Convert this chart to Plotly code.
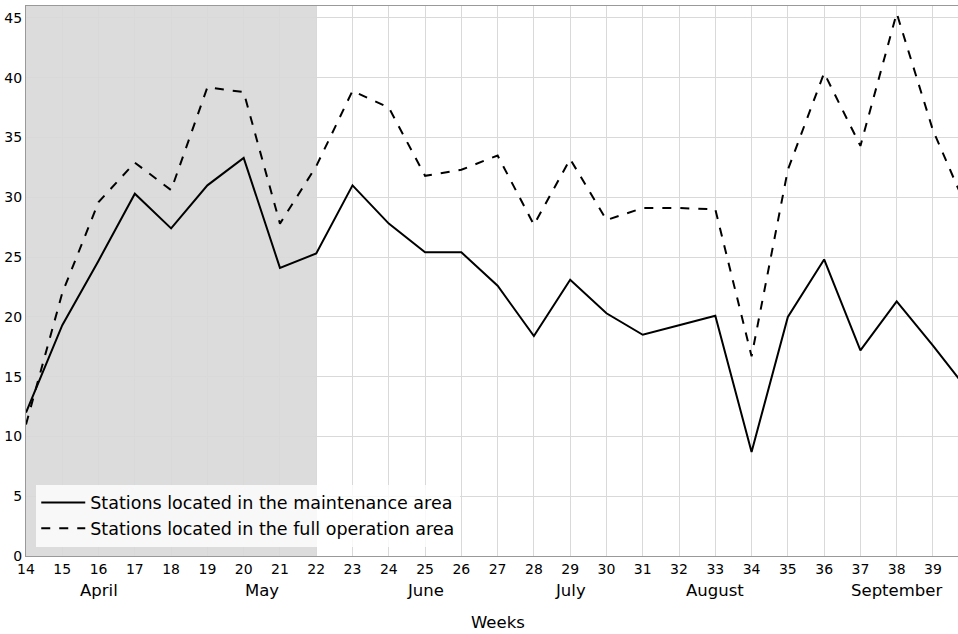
import plotly.graph_objects as go

weeks = [14, 15, 16, 17, 18, 19, 20, 21, 22, 23, 24, 25, 26, 27, 28, 29, 30, 31, 32, 33, 34, 35, 36, 37, 38, 39, 40]
maintenance = [12.0, 19.3, 24.7, 30.3, 27.4, 31.0, 33.3, 24.1, 25.3, 31.0, 27.8, 25.4, 25.4, 22.6, 18.4, 23.1, 20.3, 18.5, 19.3, 20.1, 8.7, 20.0, 24.8, 17.2, 21.3, 17.6, 13.7]
full_operation = [11.0, 22.0, 29.6, 32.9, 30.6, 39.2, 38.8, 27.8, 32.6, 38.9, 37.5, 31.8, 32.3, 33.5, 27.7, 33.2, 28.1, 29.1, 29.1, 29.0, 16.7, 32.3, 40.4, 34.3, 45.4, 35.6, 28.6]
month_labels = ["April", "May", "June", "July", "August", "September"]
month_pos = [16, 20.5, 25, 29, 33, 38]
shade_range = [14, 22]

FONT = "DejaVu Sans"

fig = go.Figure()
fig.add_trace(go.Scatter(x=weeks, y=maintenance, mode="lines",
                         name="Stations located in the maintenance area",
                         line=dict(color="black", width=2)))
fig.add_trace(go.Scatter(x=weeks, y=full_operation, mode="lines",
                         name="Stations located in the full operation area",
                         line=dict(color="black", width=2, dash="dash")))

fig.add_vrect(x0=shade_range[0], x1=shade_range[1], fillcolor="#dcdcdc",
              opacity=1, line_width=0, layer="below")

for m, p in zip(month_labels, month_pos):
    fig.add_annotation(x=p, y=-0.062, xref="x", yref="paper", text=m,
                       showarrow=False, yanchor="middle",
                       font=dict(family=FONT, size=16.5, color="black"))
fig.add_annotation(x=27, y=-0.12, xref="x", yref="paper", text="Weeks",
                   showarrow=False, yanchor="middle",
                   font=dict(family=FONT, size=16.5, color="black"))

fig.update_layout(
    width=958, height=634,
    margin=dict(l=26, r=0, t=6, b=78),
    paper_bgcolor="white", plot_bgcolor="white",
    font=dict(family=FONT, size=14, color="black"),
    legend=dict(x=0.011, y=0.017, xanchor="left", yanchor="bottom",
                bgcolor="rgba(255,255,255,0.8)", borderwidth=0,
                tracegroupgap=0, itemwidth=44,
                font=dict(family=FONT, size=17.5, color="black")),
    showlegend=True,
)
fig.update_xaxes(range=[14, 39.69], tickmode="array", tickvals=weeks[:-1],
                 ticktext=[str(w) for w in weeks[:-1]],
                 tickfont=dict(size=14),
                 showgrid=True, gridcolor="#d9d9d9", gridwidth=1,
                 showline=True, linecolor="#999999", linewidth=1, mirror=True,
                 ticks="", zeroline=False, layer="below traces")
fig.update_yaxes(range=[0, 46], tickmode="array", tickvals=list(range(0, 50, 5)),
                 tickfont=dict(size=14),
                 showgrid=True, gridcolor="#d9d9d9", gridwidth=1,
                 showline=True, linecolor="#999999", linewidth=1, mirror=True,
                 ticks="", zeroline=False, layer="below traces")

fig.write_html("out.html")
